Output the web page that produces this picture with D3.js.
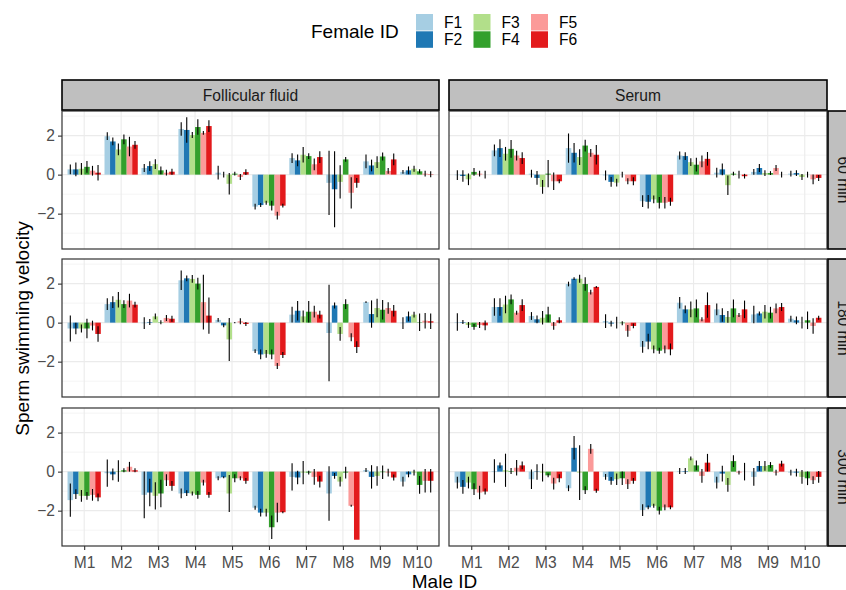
<!DOCTYPE html>
<html>
<head>
  <meta charset="utf-8">
  <title>Sperm swimming velocity</title>
  <script src="https://cdn.jsdelivr.net/npm/d3@7"></script>
  <style>
    body { margin: 0; background: #fff; }
    svg text { font-family: "Liberation Sans", Arial, sans-serif; }
  </style>
</head>
<body>
<div id="chart"></div>
<script>
// categories
var males = ["M1","M2","M3","M4","M5","M6","M7","M8","M9","M10"];
var females = ["F1","F2","F3","F4","F5","F6"];
var fluids = ["Follicular fluid","Serum"];
var times = ["60 min","180 min","300 min"];
var femaleColors = ["#A6CEE3","#1F78B4","#B2DF8A","#33A02C","#FB9A99","#E31A1C"];
var yTicks = [-2, 0, 2];
var yMinor = [-3, -1, 1, 3];

// means per male (rows) and female (columns)
var ff60Mean = [
  [0.27,0.27,0.3,0.4,0.2,0.1],[1.97,1.7,1.29,1.81,1.44,1.53],[0.34,0.44,0.54,0.22,0.1,0.15],
  [2.34,2.29,2.03,2.44,2.14,2.49],[0.1,0.0,-0.47,0.05,-0.12,0.13],[-1.64,-1.56,-1.44,-1.59,-2.1,-1.59],
  [0.85,0.73,1.02,0.95,0.53,0.9],[-0.42,-0.75,-0.37,0.78,-0.93,-0.42],[0.68,0.47,0.64,0.93,0.19,0.78],
  [0.14,0.22,0.3,0.17,0.05,0.02]];
var ff60Err = [
  [0.25,0.35,0.3,0.3,0.25,0.4],[0.2,0.2,0.3,0.25,0.5,0.2],[0.2,0.25,0.25,0.2,0.15,0.15],
  [0.35,0.65,0.15,0.4,0.1,0.3],[0.35,0.15,0.55,0.1,0.15,0.15],[0.15,0.1,0.1,0.25,0.2,0.1],
  [0.25,0.3,0.4,0.15,0.3,0.3],[1.65,1.95,0.85,0.12,0.8,0.25],[0.35,0.3,0.3,0.2,0.15,0.3],
  [0.1,0.2,0.15,0.1,0.15,0.15]];
var se60Mean = [
  [-0.03,-0.07,-0.24,0.14,0.05,0],[1.24,1.36,1.07,1.32,0.98,0.85],[0.05,-0.17,-0.63,0.05,-0.34,-0.34],
  [1.36,1.12,0.9,1.49,1.12,1.02],[-0.04,-0.37,-0.41,0,-0.34,-0.34],[-1.36,-1.39,-1.27,-1.44,-1.44,-1.39],
  [0.98,0.95,0.64,0.51,0.68,0.81],[0.1,0.27,-0.54,0.05,0,-0.08],[0.14,0.34,0.08,0.08,0.34,0],
  [0.05,0.08,-0.12,0,-0.24,-0.17]];
var se60Err = [
  [0.25,0.3,0.3,0.2,0.15,0.2],[0.3,0.45,0.35,0.45,0.25,0.3],[0.2,0.35,0.35,0.7,0.45,0.1],
  [0.75,0.5,0.4,0.3,0.2,0.5],[0.25,0.25,0.2,0.15,0.15,0.2],[0.3,0.35,0.2,0.3,0.3,0.2],
  [0.2,0.2,0.2,0.35,0.3,0.35],[0.25,0.3,0.5,0.1,0.2,0.12],[0.15,0.2,0.15,0.1,0.15,0.15],
  [0.15,0.15,0.15,0.15,0.25,0.15]];
var ff180Mean = [
  [-0.3,-0.3,-0.3,-0.3,-0.15,-0.58],[0.95,1.05,1.17,0.95,1.13,0.92],[-0.03,0.03,0.32,0.02,0.24,0.2],
  [2.17,2.27,2.24,2.0,1.05,0.36],[0.14,-0.14,-0.86,0,0.07,-0.07],[-1.46,-1.63,-1.6,-1.63,-2.22,-1.66],
  [0.41,0.61,0.32,0.56,0.56,0.41],[-0.53,0.88,-0.58,0.95,-0.75,-1.25],[1.05,0.44,0.75,0.66,0.75,0.61],
  [-0.03,0.32,0.41,0.02,0.1,0.07]];
var ff180Err = [
  [0.67,0.3,0.2,0.5,0.25,0.4],[0.3,0.3,0.4,0.2,0.35,0.15],[0.3,0.15,0.15,0.1,0.15,0.15],
  [0.5,0.15,0.2,0.3,1.4,0.93],[0.1,0.1,1.1,0.03,0.15,0.1],[0.1,0.25,0.2,0.25,0.15,0.15],
  [0.4,0.5,0.3,0.55,0.3,0.2],[2.47,0.15,0.35,0.25,0.2,0.3],[0.05,0.7,0.47,0.5,0.3,0.3],
  [0.3,0.25,0.15,0.45,0.4,0.4]];
var se180Mean = [
  [0.03,0.03,-0.12,-0.22,-0.12,-0.14],[0.8,0.8,0.93,1.19,0.51,0.9],[0.34,0.17,0.25,0.42,-0.17,0.12],
  [1.98,2.25,2.25,1.98,1.56,1.83],[0.08,-0.05,0,-0.03,-0.42,-0.17],[-1.24,-0.97,-1.37,-1.44,-1.37,-1.37],
  [1.02,0.68,0.68,0.73,0.17,0.9],[0.68,0.39,0.29,0.73,0.39,0.68],[0.42,0.47,0.56,0.51,0.73,0.8],
  [0.2,0.12,0,0.12,-0.17,0.25]];
var se180Err = [
  [0.45,0.1,0.15,0.15,0.15,0.25],[0.45,0.45,0.45,0.25,0.1,0.3],[0.2,0.2,0.35,0.4,0.2,0.15],
  [0.12,0.07,0.2,0.35,0.12,0.05],[0.35,0.15,0.3,0.1,0.3,0.12],[0.3,0.4,0.2,0.15,0.2,0.3],
  [0.3,0.2,0.4,0.45,0.1,0.65],[0.3,0.35,0.3,0.45,0.1,0.45],[0.45,0.1,0.35,0.3,0.25,0.2],
  [0.15,0.2,0.3,0.45,0.4,0.1]];
var ff300Mean = [
  [-1.46,-1.15,-1.24,-1.24,-1.19,-1.32],[-0.08,-0.14,0.03,0.07,0.25,0.07],[-1.19,-1.07,-1.24,-1.12,-0.44,-0.73],
  [-1.12,-1.1,-1.12,-1.19,-0.56,-1.19],[-0.34,-0.29,-1.12,-0.34,-0.34,-0.47],[-1.85,-2.1,-2.1,-2.85,-2.1,-2.08],
  [-0.27,-0.3,-0.05,-0.05,-0.27,-0.51],[-1.12,-0.22,-0.51,-0.05,-1.75,-3.49],[0.08,-0.27,-0.22,-0.03,-0.05,-0.3],
  [-0.51,-0.14,-0.05,-0.68,-0.47,-0.47]];
var ff300Err = [
  [0.85,0.25,0.3,0.2,0.3,0.2],[0.7,0.3,0.55,0.1,0.25,0.1],[1.2,0.7,0.7,0.7,0.3,0.25],
  [0.25,0.15,0.1,0.2,0.15,0.15],[0.1,0.05,0.95,0.2,0.1,0.15],[0.1,0.2,0.2,0.6,0.5,0.05],
  [0.7,0.35,0.6,0.1,0.4,0.3],[1.4,0.15,0.25,0.3,0.05,0],[0.1,0.6,0.5,0.35,0.2,0.15],
  [0.25,0.15,0.15,0.45,0.6,0.6]];
var se300Mean = [
  [-0.56,-0.78,-0.56,-0.9,-1.07,-1.02],[0.03,0.32,0.07,0.03,0.2,0.32],[-0.39,-0.02,-0.05,-0.19,-0.61,-0.34],
  [-0.85,1.22,-0.05,-0.95,1.17,-0.98],[-0.27,-0.47,-0.39,-0.34,-0.64,-0.47],[-1.97,-1.83,-1.75,-2.0,-1.83,-1.83],
  [0.03,0.03,0.68,0.32,-0.22,0.46],[-0.56,-0.1,-0.68,0.54,-0.05,0],[-0.27,0.29,0.29,0.34,-0.05,0.41],
  [-0.05,-0.05,-0.27,-0.34,-0.44,-0.27]];
var se300Err = [
  [0.3,0.35,0.3,0.3,0.35,0.15],[0.6,0.15,0.85,0.15,0.4,0.2],[0.5,0.4,0.45,0.1,0.3,0.2],
  [0.15,0.6,1.4,0.2,0.25,0.1],[0.15,0.2,0.3,0.35,0.25,0.15],[0.3,0.1,0.1,0.2,0.15,0.1],
  [0.15,0.15,0.1,0.25,0.35,0.45],[0.3,0.4,0.35,0.3,0.1,0.45],[0.45,0.25,0.25,0.15,0.15,0.15],
  [0.15,0.2,0.35,0.35,0.2,0.3]];

// facet grid: rows = time, cols = fluid
var panels = [
  {row:0, col:0, mean:ff60Mean,  err:ff60Err},
  {row:0, col:1, mean:se60Mean,  err:se60Err},
  {row:1, col:0, mean:ff180Mean, err:ff180Err},
  {row:1, col:1, mean:se180Mean, err:se180Err},
  {row:2, col:0, mean:ff300Mean, err:ff300Err},
  {row:2, col:1, mean:se300Mean, err:se300Err}
];

var W = 846, H = 590;
var colX = [[62, 439], [449, 827]];
var rowY = [[111, 249], [259, 397], [408, 546]];
var stripH = 30;
var small = "15.6px", big = "19px";

var svg = d3.select("#chart").append("svg")
  .attr("width", W).attr("height", H);

// shared y domain (fixed scales) with ggplot-like 5% expansion
var lo = d3.min(panels, function(p) {
  return d3.min(p.mean, function(r, i) { return d3.min(r, function(v, j) { return Math.min(v, v - p.err[i][j]); }); });
});
var hi = d3.max(panels, function(p) {
  return d3.max(p.mean, function(r, i) { return d3.max(r, function(v, j) { return Math.max(v, v + p.err[i][j]); }); });
});
var pad = (hi - lo) * 0.05;
var yDomain = [lo - pad, hi + pad];

panels.forEach(function(p) {
  var x0 = colX[p.col][0], x1 = colX[p.col][1];
  var y0 = rowY[p.row][0], y1 = rowY[p.row][1];
  var x = d3.scalePoint().domain(males).range([x0, x1]).padding(0.6);
  var step = x.step();
  var bw = step * 0.9 / females.length;
  var y = d3.scaleLinear().domain(yDomain).range([y1, y0]);
  var g = svg.append("g");

  g.append("rect").attr("x", x0).attr("y", y0).attr("width", x1 - x0).attr("height", y1 - y0)
    .attr("fill", "#fff");

  g.selectAll(".minor").data(yMinor).enter().append("line")
    .attr("x1", x0).attr("x2", x1).attr("y1", y).attr("y2", y)
    .attr("stroke", "#EBEBEB").attr("stroke-width", 0.55);
  g.selectAll(".major").data(yTicks).enter().append("line")
    .attr("x1", x0).attr("x2", x1).attr("y1", y).attr("y2", y)
    .attr("stroke", "#EBEBEB").attr("stroke-width", 1.1);
  g.selectAll(".vgrid").data(males).enter().append("line")
    .attr("x1", x).attr("x2", x).attr("y1", y0).attr("y2", y1)
    .attr("stroke", "#EBEBEB").attr("stroke-width", 1.1);

  var rows = [];
  males.forEach(function(m, i) {
    females.forEach(function(f, j) {
      rows.push({m: m, j: j, v: p.mean[i][j], e: p.err[i][j]});
    });
  });
  var cx = function(d) { return x(d.m) + (d.j - (females.length - 1) / 2) * bw; };

  g.selectAll(".bar").data(rows).enter().append("rect")
    .attr("x", function(d) { return cx(d) - bw / 2; })
    .attr("width", bw)
    .attr("y", function(d) { return y(Math.max(0, d.v)); })
    .attr("height", function(d) { return Math.abs(y(d.v) - y(0)); })
    .attr("fill", function(d) { return femaleColors[d.j]; });

  g.selectAll(".eb").data(rows.filter(function(d) { return d.e > 0; })).enter().append("line")
    .attr("x1", cx).attr("x2", cx)
    .attr("y1", function(d) { return y(d.v - d.e); })
    .attr("y2", function(d) { return y(d.v + d.e); })
    .attr("stroke", "#000").attr("stroke-width", 1.1);

  g.append("rect").attr("x", x0).attr("y", y0).attr("width", x1 - x0).attr("height", y1 - y0)
    .attr("fill", "none").attr("stroke", "#333").attr("stroke-width", 1.2);

  // left axis
  if (p.col === 0) {
    var ax = g.append("g").attr("transform", "translate(" + x0 + ",0)")
      .call(d3.axisLeft(y).tickValues(yTicks).tickSize(4).tickPadding(3)
        .tickFormat(function(d) { return d < 0 ? "\u2212" + Math.abs(d) : d; }));
    ax.select(".domain").remove();
    ax.selectAll(".tick line").attr("stroke", "#333").attr("stroke-width", 1.1);
    ax.selectAll(".tick text").attr("fill", "#4D4D4D").style("font-size", small)
      .style("font-family", "'Liberation Sans', Arial, sans-serif");
  }
  // bottom axis
  if (p.row === 2) {
    var bx = g.append("g").attr("transform", "translate(0," + y1 + ")")
      .call(d3.axisBottom(x).tickSize(4).tickPadding(7));
    bx.select(".domain").remove();
    bx.selectAll(".tick line").attr("stroke", "#333").attr("stroke-width", 1.1);
    bx.selectAll(".tick text").attr("fill", "#4D4D4D").style("font-size", small)
      .style("font-family", "'Liberation Sans', Arial, sans-serif");
  }
});

// top strips
fluids.forEach(function(f, c) {
  var x0 = colX[c][0], x1 = colX[c][1];
  svg.append("rect").attr("x", x0).attr("y", rowY[0][0] - stripH - 1).attr("width", x1 - x0).attr("height", stripH)
    .attr("fill", "#BFBFBF").attr("stroke", "#000").attr("stroke-width", 1.6);
  svg.append("text").attr("x", (x0 + x1) / 2).attr("y", rowY[0][0] - 1 - stripH / 2)
    .attr("text-anchor", "middle").attr("dominant-baseline", "central")
    .attr("fill", "#1A1A1A").style("font-size", small).text(f);
});
// right strips (cut by the page edge, as in the original)
times.forEach(function(t, r) {
  var y0 = rowY[r][0], y1 = rowY[r][1];
  var sx = colX[1][1] + 1;
  svg.append("rect").attr("x", sx).attr("y", y0).attr("width", stripH).attr("height", y1 - y0)
    .attr("fill", "#BFBFBF").attr("stroke", "#000").attr("stroke-width", 1.6);
  svg.append("text")
    .attr("transform", "translate(" + (sx + stripH / 2) + "," + ((y0 + y1) / 2) + ") rotate(90)")
    .attr("text-anchor", "middle").attr("dominant-baseline", "central")
    .attr("fill", "#1A1A1A").style("font-size", small).text(t);
});

// axis titles
svg.append("text")
  .attr("transform", "translate(22," + ((rowY[0][0] + rowY[2][1]) / 2) + ") rotate(-90)")
  .attr("text-anchor", "middle").attr("dominant-baseline", "central")
  .style("font-size", big).attr("fill", "#000").text("Sperm swimming velocity");
svg.append("text")
  .attr("x", (colX[0][0] + colX[1][1]) / 2).attr("y", 581)
  .attr("text-anchor", "middle").attr("dominant-baseline", "central")
  .style("font-size", big).attr("fill", "#000").text("Male ID");

// legend
var legend = svg.append("g");
legend.append("text").attr("x", 311).attr("y", 31).attr("dominant-baseline", "central")
  .style("font-size", big).attr("fill", "#000").text("Female ID");
females.forEach(function(f, i) {
  var col = Math.floor(i / 2), row = i % 2;
  var kx = 416 + col * 57.5, ky = 14 + row * 17.3;
  legend.append("rect").attr("x", kx).attr("y", ky).attr("width", 17).attr("height", 16.5)
    .attr("fill", femaleColors[i]);
  legend.append("text").attr("x", kx + 28).attr("y", ky + 8.5).attr("dominant-baseline", "central")
    .style("font-size", small).attr("fill", "#000").text(f);
});
</script>
</body>
</html>
